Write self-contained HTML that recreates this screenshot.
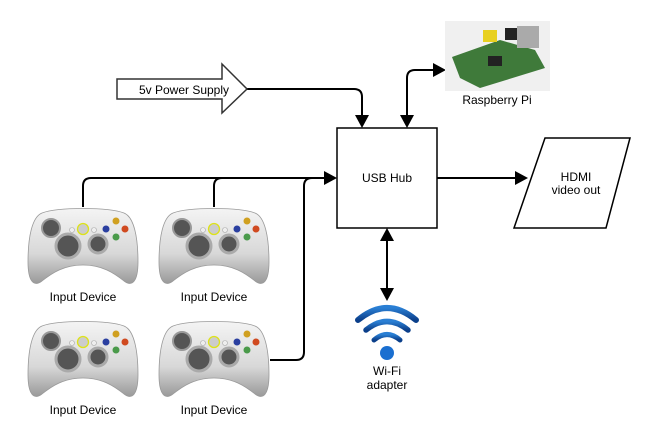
<!DOCTYPE html>
<html><head><meta charset="utf-8"><style>
html,body{margin:0;padding:0;background:#fff;}
svg{display:block;font-family:"Liberation Sans",sans-serif;}
</style></head><body>
<svg width="659" height="440" viewBox="0 0 659 440" xmlns="http://www.w3.org/2000/svg">
<defs>
<linearGradient id="cg" x1="0" y1="0" x2="0" y2="1"><stop offset="0" stop-color="#f4f4f4"/><stop offset="0.6" stop-color="#d8d8d8"/><stop offset="1" stop-color="#9a9a9a"/></linearGradient>
<linearGradient id="wf" x1="0" y1="0" x2="0" y2="1"><stop offset="0" stop-color="#2a7fd4"/><stop offset="1" stop-color="#0b3f8a"/></linearGradient>
<g id="ctl">
<path d="M14,6 C30,0 80,0 96,6 C106,10 110,30 110,55 C110,75 104,80 96,74 C86,66 74,58 55,58 C36,58 24,66 14,74 C6,80 0,75 0,55 C0,30 4,10 14,6 Z" fill="url(#cg)" stroke="#999" stroke-width="0.8"/>
<circle cx="23" cy="21" r="9" fill="#555" stroke="#999" stroke-width="2"/>
<circle cx="40" cy="39" r="12" fill="#555" stroke="#aaa" stroke-width="3"/>
<circle cx="70" cy="37" r="9" fill="#555" stroke="#aaa" stroke-width="3"/>
<circle cx="55" cy="22" r="5.5" fill="#ccc" stroke="#dde21a" stroke-width="1.3"/>
<circle cx="44" cy="23" r="2.5" fill="#eee" stroke="#aaa" stroke-width="0.6"/>
<circle cx="66" cy="23" r="2.5" fill="#eee" stroke="#aaa" stroke-width="0.6"/>
<circle cx="78" cy="22" r="3.5" fill="#2a3fa0"/>
<circle cx="88" cy="14" r="3.5" fill="#d0a020"/>
<circle cx="97" cy="22" r="3.5" fill="#d04a20"/>
<circle cx="88" cy="30" r="3.5" fill="#4a9a4a"/>
</g>
</defs>

<g fill="none" stroke="#000" stroke-width="2">
<path d="M247,89 H354 Q362,89 362,97 V116"/>
<path d="M407,116 V78 Q407,70 415,70 H434"/>
<path d="M83,207 V186 Q83,178 91,178 H325"/>
<path d="M214,207 V186 Q214,178 222,178"/>
<path d="M270,360 H296 Q304,360 304,352 V186 Q304,178 312,178"/>
<path d="M437,178 H516"/>
<path d="M387,240 V290"/>
</g>
<g fill="#000">
<path d="M355,115 L369,115 L362,128 Z"/>
<path d="M400,115 L414,115 L407,128 Z"/>
<path d="M433,63 L433,77 L446,70 Z"/>
<path d="M324,171 L324,185 L337,178 Z"/>
<path d="M515,171 L515,185 L528,178 Z"/>
<path d="M380,241 L394,241 L387,228 Z"/>
<path d="M380,288 L394,288 L387,301 Z"/>
</g>

<path d="M117,79 H222 V64 L247,89 L222,113 V99 H117 Z" fill="#fff" stroke="#333" stroke-width="1.5"/>
<text x="184" y="94" font-size="12" text-anchor="middle">5v Power Supply</text>

<rect x="337" y="128" width="100" height="100" fill="#fff" stroke="#000" stroke-width="1.5"/>
<text x="387" y="182" font-size="12" text-anchor="middle">USB Hub</text>

<path d="M545,138 H630 L606,228 H514 Z" fill="#fff" stroke="#000" stroke-width="1.5"/>
<text x="576" y="181" font-size="12" text-anchor="middle">HDMI</text>
<text x="576" y="194" font-size="12" text-anchor="middle">video out</text>

<rect x="445" y="21" width="105" height="70" fill="#f0f0f0"/>
<path d="M452,57 L500,40 L535,50 L545,68 L480,88 L460,78 Z" fill="#3f7a3a"/>
<rect x="517" y="26" width="22" height="22" fill="#aaa"/>
<rect x="505" y="28" width="12" height="12" fill="#222"/>
<rect x="483" y="30" width="14" height="12" fill="#e8d020"/>
<rect x="488" y="56" width="14" height="10" fill="#222"/>
<text x="497" y="104" font-size="12" text-anchor="middle">Raspberry Pi</text>

<g fill="none" stroke="url(#wf)" stroke-linecap="round">
<path d="M358,320 Q387,296 416,320" stroke-width="6"/>
<path d="M366,330 Q387,313 408,330" stroke-width="5.5"/>
<path d="M374,340 Q387,329 400,340" stroke-width="5"/>
</g>
<circle cx="387" cy="353" r="7" fill="#1a6fd0"/>
<text x="387" y="375" font-size="12" text-anchor="middle">Wi-Fi</text>
<text x="387" y="389" font-size="12" text-anchor="middle">adapter</text>

<use href="#ctl" x="28" y="207"/>
<use href="#ctl" x="159" y="207"/>
<use href="#ctl" x="28" y="320"/>
<use href="#ctl" x="159" y="320"/>
<g font-size="12" text-anchor="middle">
<text x="83" y="301">Input Device</text>
<text x="214" y="301">Input Device</text>
<text x="83" y="414">Input Device</text>
<text x="214" y="414">Input Device</text>
</g>
</svg>
</body></html>
